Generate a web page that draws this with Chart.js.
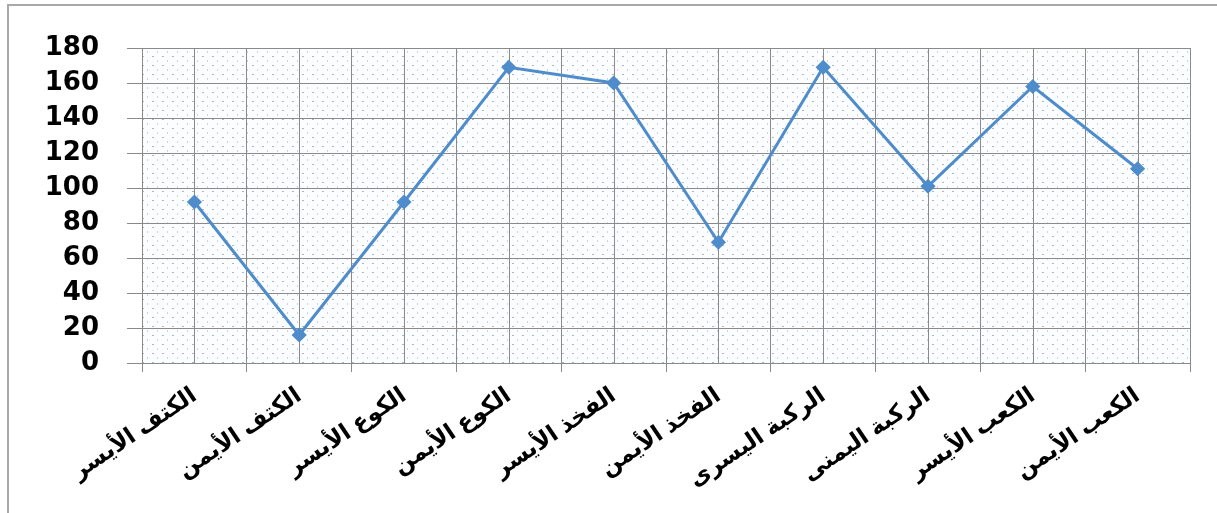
<!DOCTYPE html>
<html lang="ar">
<head>
<meta charset="utf-8">
<title>مخطط المفاصل</title>
<script src="https://cdn.jsdelivr.net/npm/chart.js@4"></script>
<style>
  html, body { margin: 0; padding: 0; background: #fff; }
  #wrap { position: relative; width: 1217px; height: 513px; overflow: hidden; }
  #frame {
    position: absolute; left: 7px; top: 4px; width: 1230px; height: 530px;
    border-left: 2px solid #a8a8a8; border-top: 2px solid #a8a8a8;
    box-sizing: border-box;
  }
  canvas { position: absolute; left: 0; top: 0; }
</style>
</head>
<body>
<div id="wrap">
  <div id="frame"></div>
  <canvas id="chart" width="1217" height="513"></canvas>
</div>
<script>
'use strict';

// ─── Data ───────────────────────────────────────────────────────────────
const jointLabels = [
  'الكتف الأيسر', 'الكتف الأيمن', 'الكوع الأيسر', 'الكوع الأيمن', 'الفخذ الأيسر',
  'الفخذ الأيمن', 'الركبة اليسرى', 'الركبة اليمنى', 'الكعب الأيسر', 'الكعب الأيمن',
];
const jointValues = [92, 16, 92, 169, 160, 69, 169, 101, 158, 111];
const yTicks      = [0, 20, 40, 60, 80, 100, 120, 140, 160, 180];

const LINE_COLOR = '#4f8ccb';
const GRID_COLOR = '#8a8a8a';
const FONT_FAMILY = '"Liberation Sans", "DejaVu Sans", sans-serif';

// dotted fill for the plot area
function dotPattern(ctx) {
  const tile = document.createElement('canvas');
  tile.width = 10; tile.height = 9;
  const t = tile.getContext('2d');
  t.fillStyle = '#fbfdff';
  t.fillRect(0, 0, 10, 9);
  t.fillStyle = 'rgba(105,125,155,0.55)';
  t.fillRect(2, 2, 2, 1);
  t.fillStyle = 'rgba(140,165,200,0.45)';
  t.fillRect(7, 6, 1, 2);
  return ctx.createPattern(tile, 'repeat');
}

// background pattern + extra vertical lines through each category centre
const plotDecor = {
  id: 'plotDecor',
  beforeDraw(chart) {
    const { ctx, chartArea: a } = chart;
    ctx.save();
    ctx.fillStyle = dotPattern(ctx);
    ctx.fillRect(a.left, a.top, a.right - a.left, a.bottom - a.top);
    ctx.restore();
  },
  beforeDatasetsDraw(chart) {
    const { ctx, chartArea: a, scales: { x } } = chart;
    ctx.save();
    ctx.strokeStyle = GRID_COLOR;
    ctx.lineWidth = 1;
    jointLabels.forEach((_, i) => {
      const px = Math.round(x.getPixelForValue(i)) + 0.5;
      ctx.beginPath();
      ctx.moveTo(px, a.top);
      ctx.lineTo(px, a.bottom);
      ctx.stroke();
    });
    ctx.restore();
  },
};

new Chart(document.getElementById('chart'), {
  type: 'line',
  data: {
    labels: jointLabels,
    datasets: [{
      data: jointValues,
      borderColor: LINE_COLOR,
      backgroundColor: LINE_COLOR,
      borderWidth: 3,
      pointStyle: 'rectRot',
      pointRadius: 5.5,
      pointHoverRadius: 5.5,
      tension: 0,
    }],
  },
  options: {
    responsive: false,
    animation: false,
    layout: { padding: { top: 48, right: 27, left: 0, bottom: 0 } },
    plugins: { legend: { display: false }, tooltip: { enabled: false } },
    scales: {
      x: {
        offset: true,
        grid: { offset: true, color: GRID_COLOR, tickLength: 9, drawTicks: true },
        border: { color: GRID_COLOR },
        ticks: {
          color: '#000',
          font: { family: FONT_FAMILY, size: 23, weight: 'bold' },
          minRotation: 34, maxRotation: 34,
          padding: 10,
          autoSkip: false,
        },
        afterFit: s => { s.height = 150; },
      },
      y: {
        min: 0, max: 180,
        afterBuildTicks: s => { s.ticks = yTicks.map(v => ({ value: v })); },
        grid: { color: GRID_COLOR, tickLength: 15 },
        border: { color: GRID_COLOR },
        ticks: {
          color: '#000',
          font: { family: '"DejaVu Sans", sans-serif', size: 26, weight: 'bold' },
          padding: 28,
        },
        afterFit: s => { s.width = 142; },
      },
    },
  },
  plugins: [plotDecor],
});
</script>
</body>
</html>
